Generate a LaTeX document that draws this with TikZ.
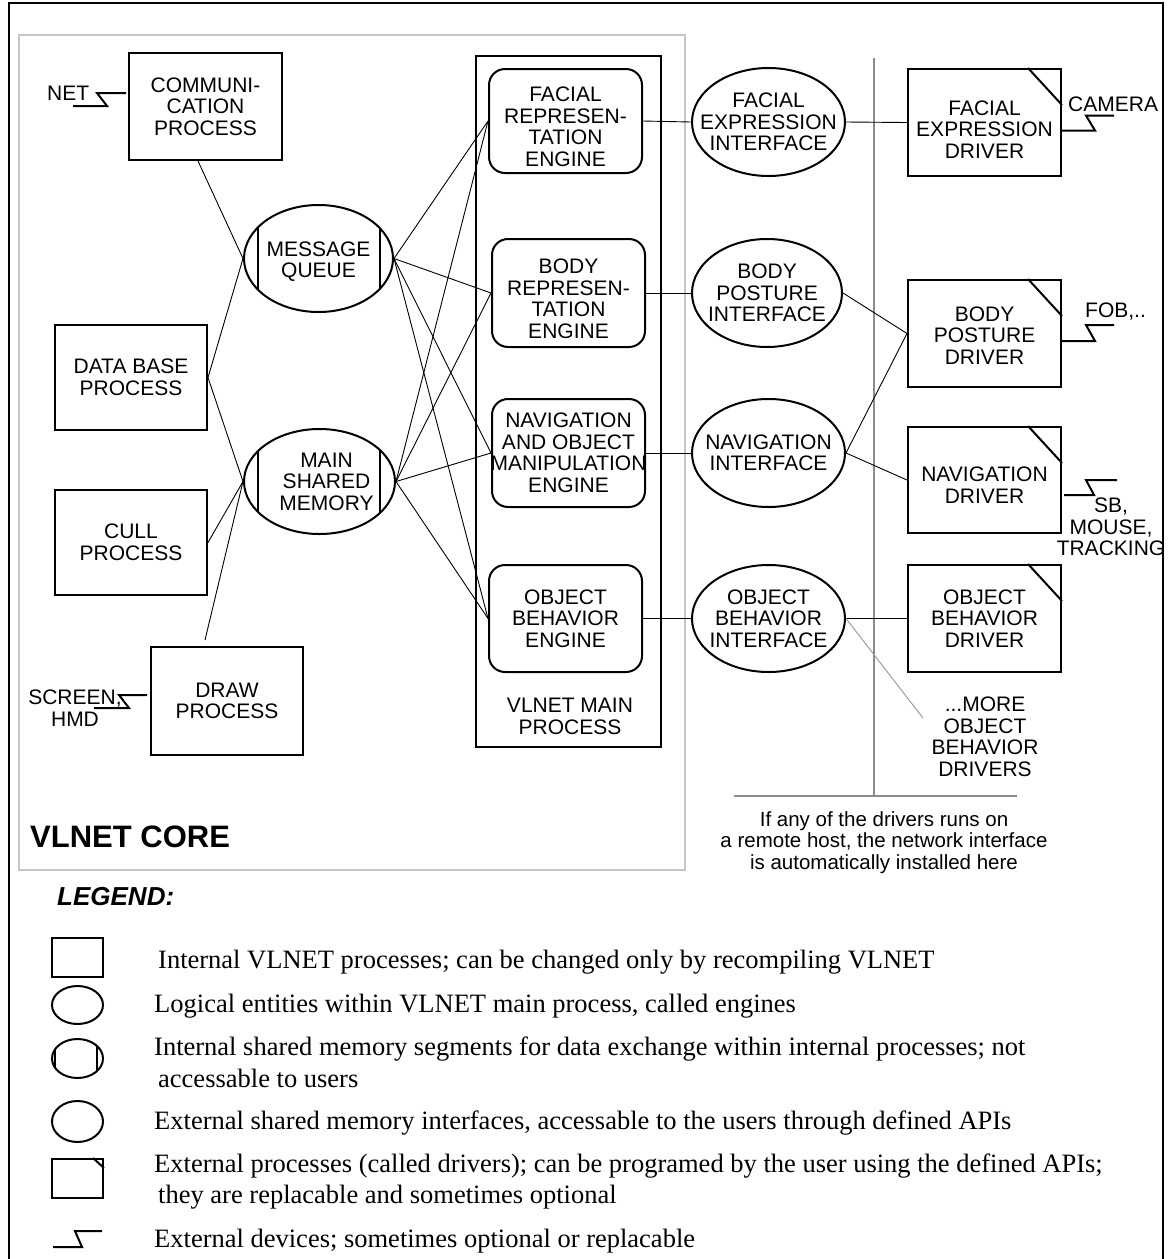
\documentclass[tikz,border=0pt]{standalone}
\usepackage{fontspec}
\setmainfont{Liberation Sans}
\newfontfamily\legserif{Liberation Serif}
\usetikzlibrary{shapes.geometric,calc}
\newcommand\diagfont{\fontsize{21}{21.5}\selectfont}
\newcommand\notefont{\fontsize{20.5}{21.5}\selectfont}
\newcommand\legfont{\legserif\fontsize{26.5}{26.5}\selectfont}
\definecolor{gline}{gray}{0.55}
\definecolor{gframe}{gray}{0.78}
\definecolor{gthin}{gray}{0.62}
\begin{document}
\begin{tikzpicture}[x=1pt,y=-1pt,
  conn/.style={line width=0.9pt},
  grayconn/.style={line width=1pt, draw=gthin},
  netline/.style={line width=2pt, draw=gline},
  dev/.style={line width=2pt},
  box/.style={draw, line width=2pt, rectangle, inner sep=0pt, minimum width=153pt},
  eng/.style={draw, line width=2pt, rectangle, rounded corners=16pt, inner sep=0pt, minimum width=153pt},
  ell/.style={draw, line width=2pt, ellipse, inner sep=0pt},
  lab/.style={label={[align=center,font=\diagfont]center:#1}},
  labo/.style 2 args={label={[align=center,font=\diagfont,#1]center:#2}},
  txt/.style={font=\diagfont, inner sep=0pt},
  legtxt/.style={font=\legfont, anchor=base west, inner sep=0pt},
  legsym/.style={draw, line width=2pt, inner sep=0pt, minimum width=51pt}
]
\useasboundingbox (0,0) rectangle (1168,1259);
% frames
\draw[line width=2pt] (9,1259) -- (9,3) -- (1163,3) -- (1163,1259);
\draw[line width=1.2pt, draw=gframe] (19,35) rectangle (685,870);

% internal processes
\node[box, minimum height=107pt, lab={COMMUNI-\\CATION\\PROCESS}] (comm) at (205.5,106.5) {};
\node[box, minimum width=152pt, minimum height=105pt, lab={DATA BASE\\PROCESS}] (db) at (131,377.5) {};
\node[box, minimum width=152pt, minimum height=105pt, lab={CULL\\PROCESS}] (cull) at (131,542.5) {};
\node[box, minimum width=152pt, minimum height=108pt, lab={DRAW\\PROCESS}] (drawp) at (227,701) {};

% shared memories
\node[ell, minimum width=149pt, minimum height=107pt, labo={yshift=-3pt}{MESSAGE\\QUEUE}] (mq) at (318.5,258.5) {};
\node[ell, minimum width=151pt, minimum height=105pt, labo={xshift=7pt}{MAIN\\SHARED\\MEMORY}] (msm) at (319.5,481.5) {};
\draw[dev] ($(mq.center)+(-60.5,-31)$) -- ++(0,62);
\draw[dev] ($(mq.center)+(61.5,-30.5)$) -- ++(0,61);
\draw[dev] ($(msm.center)+(-61.5,-30.5)$) -- ++(0,61);
\draw[dev] ($(msm.center)+(60.5,-31)$) -- ++(0,62);

% main process and engines
\node[draw, line width=2pt, inner sep=0pt, minimum width=185pt, minimum height=691pt] (mainp) at (568.5,401.5) {};
\node[txt, align=center, anchor=north] (mainlbl) at (570,698) {VLNET MAIN\\PROCESS};
\node[eng, minimum height=104pt, labo={yshift=-6pt}{FACIAL\\REPRESEN-\\TATION\\ENGINE}] (fe) at (565.5,121) {};
\node[eng, minimum height=108pt, labo={yshift=-6pt}{BODY\\REPRESEN-\\TATION\\ENGINE}] (be) at (568.5,293) {};
\node[eng, minimum height=108pt, lab={NAVIGATION\\AND OBJECT\\MANIPULATION\\ENGINE}] (ne) at (568.5,453) {};
\node[eng, minimum height=107pt, lab={OBJECT\\BEHAVIOR\\ENGINE}] (oe) at (565.5,618.5) {};

% interfaces
\node[ell, minimum width=153pt, minimum height=108pt, lab={FACIAL\\EXPRESSION\\INTERFACE}] (fi) at (768.5,122) {};
\node[ell, minimum width=150pt, minimum height=108pt, lab={BODY\\POSTURE\\INTERFACE}] (bi) at (767,293) {};
\node[ell, minimum width=153pt, minimum height=108pt, lab={NAVIGATION\\INTERFACE}] (ni) at (768.5,453) {};
\node[ell, minimum width=153pt, minimum height=107pt, lab={OBJECT\\BEHAVIOR\\INTERFACE}] (oi) at (768.5,618.5) {};

% drivers
\node[box, minimum height=107pt, labo={yshift=-7pt}{FACIAL\\EXPRESSION\\DRIVER}] (fd) at (984.5,122.5) {};
\node[box, minimum height=107pt, labo={yshift=-2pt}{BODY\\POSTURE\\DRIVER}] (bd) at (984.5,333.5) {};
\node[box, minimum height=106pt, labo={yshift=-5pt}{NAVIGATION\\DRIVER}] (nd) at (984.5,480) {};
\node[box, minimum height=107pt, lab={OBJECT\\BEHAVIOR\\DRIVER}] (od) at (984.5,618.5) {};
\foreach \d in {fd,bd,nd,od}{
  \draw[dev] ($(\d.north east)+(-34,0)$) -- ($(\d.north east)+(0,37)$);
}

% network line
\coordinate (gtop) at (874,58);
\coordinate (gbot) at (874,797);
\coordinate (gl) at (734,796);
\coordinate (gr) at (1017,796);
\draw[netline] (gtop) -- (gbot);
\draw[netline] (gl) -- (gr);
\node[font=\notefont, inner sep=0pt, align=center, anchor=north] (note) at (884,811)
  {If any of the drivers runs on\\a remote host, the network interface\\is automatically installed here};

% connectors: core
\coordinate (commout) at ($(comm.south west)+(70,0)$);
\coordinate (drawout) at ($(drawp.north west)+(55,-6)$);
\draw[conn] (commout) -- (mq.west) -- (db.east);
\draw[conn] (db.east) -- (msm.west) -- (cull.east);
\draw[conn] (msm.west) -- (drawout);
\foreach \e in {fe,be,ne,oe}{
  \draw[conn] (mq.east) -- (\e.west);
  \draw[conn] (msm.east) -- (\e.west);
}
% engines to interfaces
\draw[conn] (fe.east) -- (fi.west);
\draw[conn] (be.east) -- (bi.west);
\draw[conn] (ne.east) -- (ni.west);
\draw[conn] (oe.east) -- (oi.west);
% interfaces to drivers
\draw[conn] (fi.east) -- (fd.west);
\draw[conn] (bi.east) -- (bd.west) -- (ni.east) -- (nd.west);
\draw[conn] (oi.east) -- (od.west);
\coordinate (moreend) at (923,718);
\draw[grayconn] (oi.east) -- (moreend);
\node[txt, align=center, anchor=north] (more) at (985,697) {...MORE\\OBJECT\\BEHAVIOR\\DRIVERS};

% external devices
\draw[dev] ($(comm.west)+(-2,-13.5)$) -- ++(-29,0) -- ++(10,13) -- ++(-34,0);
\node[txt, anchor=base west] (net) at (47,100) {NET};
\draw[dev] ($(drawp.west)+(-3,-6)$) -- ++(-28,0) -- ++(10,13) -- ++(-35,0);
\node[txt, align=center, anchor=north] (screen) at (75,690) {SCREEN,\\HMD};
\draw[dev] ($(fd.east)+(0,8)$) -- ++(33,0) -- ++(-9,-15) -- ++(28,0);
\node[txt, anchor=base west] (camera) at (1068,111) {CAMERA};
\draw[dev] ($(bd.east)+(0,7.5)$) -- ++(33,0) -- ++(-9,-16) -- ++(28,0);
\node[txt, anchor=base west] (fob) at (1085,317) {FOB,..};
\draw[dev] ($(nd.east)+(2,15)$) -- ++(30,0) -- ++(-8,-15) -- ++(31,0);
\node[txt, align=center, anchor=north] (sb) at (1111,498) {SB,\\MOUSE,\\TRACKING};

% titles
\node[font=\bfseries\fontsize{31}{31}\selectfont, anchor=base west, inner sep=0pt] (core) at (30,847) {VLNET CORE};
\node[font=\bfseries\itshape\fontsize{26}{26}\selectfont, anchor=base west, inner sep=0pt] (legend) at (57,905) {LEGEND:};

% legend symbols
\node[legsym, minimum height=39pt] (lg1) at (77.5,957.5) {};
\node[legsym, ellipse, minimum height=38pt] (lg2) at (77.5,1005) {};
\node[legsym, ellipse, minimum height=39pt] (lg3) at (77.5,1058.5) {};
\draw[dev] ($(lg3.center)+(-22.5,-9)$) -- ++(0,18);
\draw[dev] ($(lg3.center)+(19.5,-12)$) -- ++(0,24);
\node[legsym, ellipse, minimum height=41pt] (lg4) at (77.5,1121.5) {};
\node[legsym, minimum height=39pt] (lg5) at (77.5,1178.5) {};
\draw[dev] ($(lg5.north east)+(-11,0)$) -- ($(lg5.north east)+(0,10)$);
\coordinate (lg6) at (53,1247);
\draw[dev] (lg6) -- ++(29,0) -- ++(-7,-16) -- ++(27,0);

% legend texts
\node[legtxt] (l1) at (158,968) {Internal VLNET processes; can be changed only by recompiling VLNET};
\node[legtxt] (l2) at (154,1012) {Logical entities within VLNET main process, called engines};
\node[legtxt] (l3) at (154,1055) {Internal shared memory segments for data exchange within internal processes; not};
\node[legtxt] (l3b) at (158,1087) {accessable to users};
\node[legtxt] (l4) at (154,1129) {External shared memory interfaces, accessable to the users through defined APIs};
\node[legtxt] (l5) at (154,1172) {External processes (called drivers); can be programed by the user using the defined APIs;};
\node[legtxt] (l5b) at (158,1203) {they are replacable and sometimes optional};
\node[legtxt] (l6) at (154,1247) {External devices; sometimes optional or replacable};
\end{tikzpicture}
\end{document}
